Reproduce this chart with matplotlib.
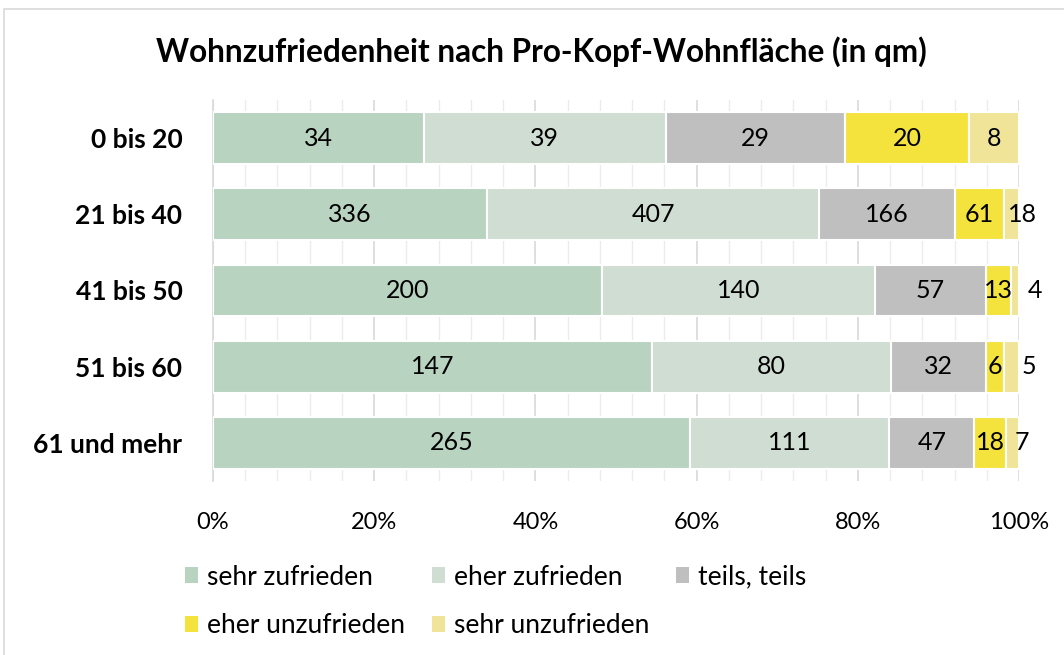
import matplotlib
matplotlib.use("Agg")
import matplotlib.pyplot as plt
from matplotlib.patches import Rectangle, Patch
import numpy as np

plt.rcParams['font.family'] = ['Lato', 'DejaVu Sans']

# data
categories = ["0 bis 20", "21 bis 40", "41 bis 50", "51 bis 60", "61 und mehr"]
series_names = ["sehr zufrieden", "eher zufrieden", "teils, teils",
                "eher unzufrieden", "sehr unzufrieden"]
sehr_zufrieden = [34, 336, 200, 147, 265]
eher_zufrieden = [39, 407, 140, 80, 111]
teils_teils = [29, 166, 57, 32, 47]
eher_unzufrieden = [20, 61, 13, 6, 18]
sehr_unzufrieden = [8, 18, 4, 5, 7]
tick_labels = ["0%", "20%", "40%", "60%", "80%", "100%"]

colors = ["#b9d3c1", "#cfddd3", "#bfbfbf", "#f5e33d", "#efe497"]
# Excel pushes the tiny last labels to the right a bit (pixels)
last_label_shift = [0, 11, 20, 17, 9]

series = [sehr_zufrieden, eher_zufrieden, teils_teils, eher_unzufrieden, sehr_unzufrieden]
counts = np.array(series, dtype=float)
totals = counts.sum(axis=0)
shares = counts / totals

fig = plt.figure(figsize=(10.64, 6.55), dpi=100)
ax = fig.add_axes([213 / 1064, 1 - 481 / 655, 806 / 1064, 381 / 655])

# thin frame around the chart like the Excel chart area
fig.patches.append(Rectangle((4 / 1064, -0.05), 1.1, 1 - 9 / 655 + 0.05,
                             transform=fig.transFigure, fill=False,
                             edgecolor="#d9d9d9", linewidth=1.2))

y = np.arange(len(categories))
left = np.zeros(len(categories))
for i, (name, vals) in enumerate(zip(series_names, shares)):
    ax.barh(y, vals, left=left, height=0.68, color=colors[i],
            edgecolor="white", linewidth=1.5, label=name, zorder=3)
    for j in range(len(categories)):
        cx = left[j] + vals[j] / 2
        shift = last_label_shift[j] * 0.72 if i == len(series_names) - 1 else 0
        ax.annotate(str(series[i][j]), (cx, y[j]), xytext=(shift, 0),
                    textcoords="offset points", ha="center", va="center",
                    fontsize=18, color="black", zorder=4)
    left += vals

ax.set_xlim(0, 1)
ax.set_ylim(len(categories) - 0.5, -0.5)
ax.set_xticks(np.linspace(0, 1, 6))
ax.set_xticklabels(tick_labels, fontsize=17)
ax.set_xticks(np.arange(0, 1.0001, 0.04), minor=True)
ax.set_yticks(y)
ax.set_yticklabels(categories, fontsize=19, fontweight="bold")
ax.tick_params(axis="both", which="both", length=0)
ax.tick_params(axis="x", pad=22)
ax.tick_params(axis="y", pad=22)
ax.grid(True, axis="x", which="minor", color="#ececec", linewidth=1, zorder=0)
ax.grid(True, axis="x", which="major", color="#d9d9d9", linewidth=1.2, zorder=0)
for side in ["top", "right", "bottom"]:
    ax.spines[side].set_visible(False)
ax.spines["left"].set_color("#d9d9d9")
ax.spines["left"].set_linewidth(1.2)

fig.text(541 / 1064, 1 - 52 / 655, "Wohnzufriedenheit nach Pro-Kopf-Wohnfläche (in qm)",
         ha="center", va="center", fontsize=22.7, fontweight="bold")

# legend in row-major order like Excel
handles = [Patch(facecolor=c, edgecolor="none") for c in colors]
order = [0, 3, 1, 4, 2]
fig.legend([handles[k] for k in order], [series_names[k] for k in order],
           ncol=3, loc="upper left", bbox_to_anchor=(161 / 1064, 1 - 541 / 655),
           frameon=False, fontsize=19, handlelength=0.5, handleheight=0.55,
           handletextpad=0.35, columnspacing=1.0, labelspacing=0.88)

fig.savefig("out.png", dpi=100)
